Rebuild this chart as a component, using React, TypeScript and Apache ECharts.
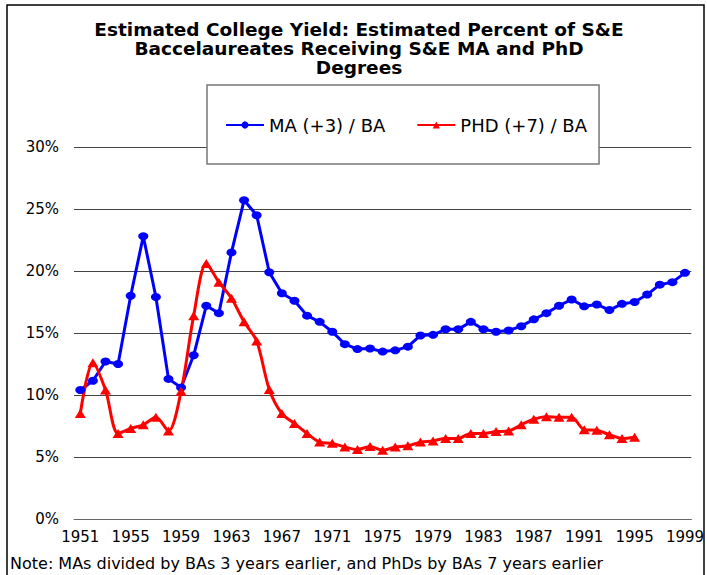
import React, { useEffect, useRef } from "react";
import * as echarts from "echarts";

const years = [
  "1951", "1952", "1953", "1954", "1955", "1956", "1957", "1958", "1959", "1960",
  "1961", "1962", "1963", "1964", "1965", "1966", "1967", "1968", "1969", "1970",
  "1971", "1972", "1973", "1974", "1975", "1976", "1977", "1978", "1979", "1980",
  "1981", "1982", "1983", "1984", "1985", "1986", "1987", "1988", "1989", "1990",
  "1991", "1992", "1993", "1994", "1995", "1996", "1997", "1998", "1999",
];

const maValues = [
  10.4, 11.15, 12.7, 12.5, 18.0, 22.8, 17.9, 11.3, 10.6, 13.2,
  17.2, 16.6, 21.5, 25.7, 24.5, 19.9, 18.2, 17.6, 16.4, 15.9,
  15.1, 14.1, 13.7, 13.75, 13.5, 13.6, 13.9, 14.8, 14.85, 15.3,
  15.3, 15.9, 15.3, 15.1, 15.2, 15.55, 16.1, 16.6, 17.2, 17.7,
  17.15, 17.3, 16.85, 17.35, 17.5, 18.1, 18.9, 19.1, 19.85,
];

const phdValues = [
  8.5, 12.6, 10.4, 6.9, 7.3, 7.6, 8.2, 7.1, 10.3, 16.4,
  20.6, 19.1, 17.8, 15.9, 14.35, 10.45, 8.5, 7.7, 6.9, 6.2,
  6.1, 5.8, 5.6, 5.85, 5.55, 5.8, 5.9, 6.2, 6.3, 6.5,
  6.5, 6.9, 6.9, 7.05, 7.1, 7.6, 8.05, 8.25, 8.2, 8.2,
  7.2, 7.15, 6.8, 6.5, 6.6, null, null, null, null,
];

const titleText =
  "Estimated College Yield: Estimated Percent of S&E\nBaccelaureates Receiving S&E MA and PhD\nDegrees";
const noteText =
  "Note: MAs divided by BAs 3 years earlier, and PhDs by BAs 7 years earlier";
const seriesNames = ["MA (+3) / BA", "PHD (+7) / BA"];

const FONT = "DejaVu Sans";

export default function App() {
  const ref = useRef<HTMLDivElement>(null);

  useEffect(() => {
    if (!ref.current) return;
    const chart = echarts.init(ref.current, null, { renderer: "svg" });
    chart.setOption({
      animation: false,
      backgroundColor: "#ffffff",
      title: {
        text: titleText,
        left: 359,
        top: 20,
        textAlign: "center",
        padding: 0,
        textStyle: {
          fontFamily: FONT,
          fontWeight: "bold",
          fontSize: 18.5,
          lineHeight: 19,
          color: "#000",
        },
      },
      legend: {
        left: 207,
        top: 85,
        padding: [31, 12, 30, 18],
        borderColor: "#777",
        borderWidth: 1.5,
        backgroundColor: "#fff",
        itemWidth: 38,
        itemHeight: 9,
        itemGap: 31,
        textStyle: { fontFamily: FONT, fontSize: 18, color: "#000" },
        data: seriesNames,
      },
      grid: { left: 74, right: 7, top: 147, bottom: 56 },
      xAxis: {
        type: "category",
        data: years,
        boundaryGap: true,
        axisLine: { lineStyle: { color: "#666", width: 1 } },
        axisTick: { interval: 0, length: 5, lineStyle: { color: "#666" } },
        axisLabel: {
          interval: 3,
          margin: 10,
          fontFamily: FONT,
          fontSize: 15,
          color: "#000",
        },
        splitLine: { show: false },
      },
      yAxis: {
        type: "value",
        min: 0,
        max: 30,
        interval: 5,
        axisLine: { show: false },
        axisTick: { show: false },
        axisLabel: {
          formatter: "{value}%",
          margin: 15,
          fontFamily: FONT,
          fontSize: 15,
          color: "#000",
        },
        splitLine: { lineStyle: { color: "#444", width: 1 } },
      },
      series: [
        {
          name: seriesNames[0],
          type: "line",
          data: maValues,
          symbol: "circle",
          symbolSize: [10, 8],
          showAllSymbol: true,
          lineStyle: { color: "#0000ff", width: 3 },
          itemStyle: { color: "#0000ff" },
        },
        {
          name: seriesNames[1],
          type: "line",
          data: phdValues,
          smooth: 0.3,
          symbol: "triangle",
          symbolSize: [11, 9],
          showAllSymbol: true,
          lineStyle: { color: "#ff0000", width: 3 },
          itemStyle: { color: "#ff0000" },
        },
      ],
      graphic: [
        {
          type: "rect",
          shape: { x: 7, y: 5, width: 697, height: 620 },
          style: { fill: "none", stroke: "#000", lineWidth: 1.5 },
          silent: true,
          z: -1,
        },
        {
          type: "text",
          x: 10,
          y: 563,
          style: {
            text: noteText,
            fontFamily: FONT,
            fontSize: 16,
            fill: "#000",
            textVerticalAlign: "middle",
          },
        },
      ],
    });
    return () => chart.dispose();
  }, []);

  return (
    <div
      ref={ref}
      style={{ position: "fixed", left: 0, top: 0, width: 707, height: 575 }}
    />
  );
}
